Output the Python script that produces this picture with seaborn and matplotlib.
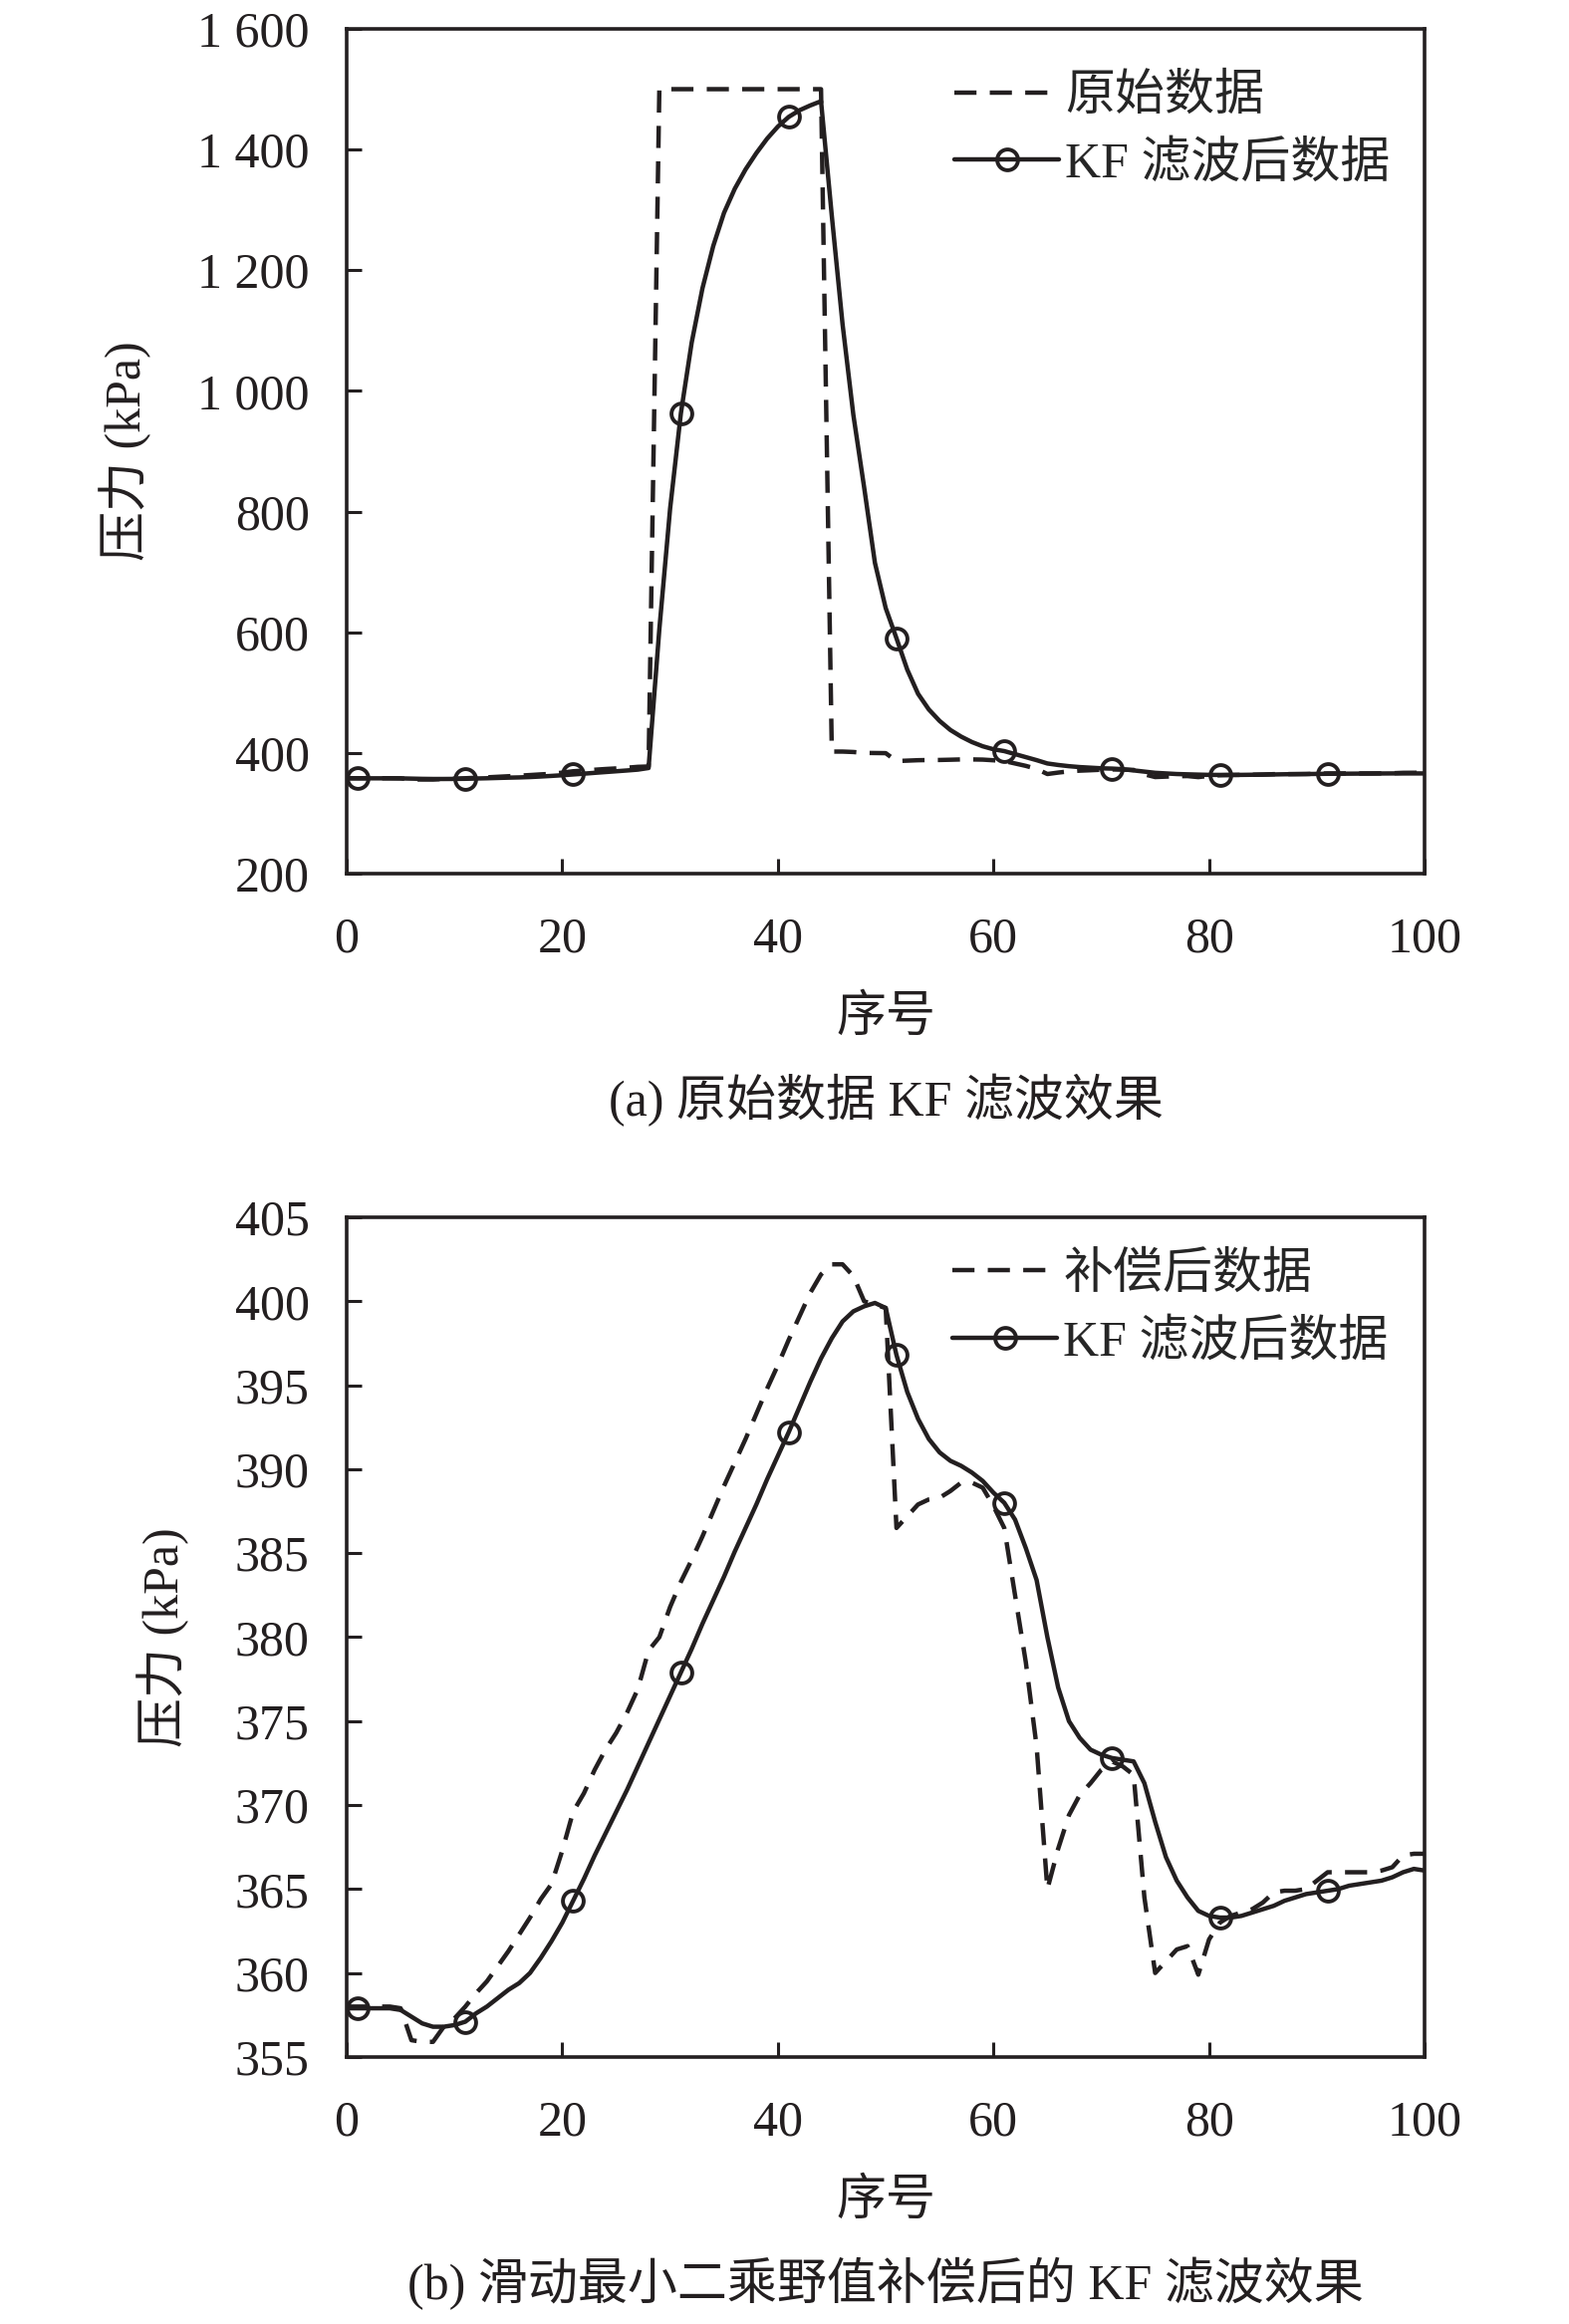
import matplotlib
matplotlib.use('Agg')
import matplotlib.pyplot as plt
import seaborn as sns
import pandas as pd

sns.set_style('ticks')
plt.rcParams['font.family'] = ['Liberation Serif', 'Noto Sans CJK SC']
plt.rcParams['axes.unicode_minus'] = False

# ---------------- data ----------------
index = list(range(101))

raw_a = [358.0, 358.0, 358.0, 358.0, 358.0, 357.9, 356.0, 355.9, 355.9, 356.8,
         357.3, 358.0, 358.8, 359.5, 360.4, 361.3, 362.3, 363.3, 364.4, 365.3,
         367.3, 369.6, 370.7, 372.1, 373.3, 374.3, 375.5, 376.9, 377.5, 1500.0,
         1500.0, 1500.0, 1500.0, 1500.0, 1500.0, 1500.0, 1500.0, 1500.0, 1500.0, 1500.0,
         1500.0, 1500.0, 1500.0, 1500.0, 1500.0, 402.2, 402.2, 401.5, 400.0, 399.8,
         399.6, 386.5, 387.2, 387.9, 388.2, 388.3, 388.7, 389.2, 389.2, 388.9,
         387.8, 386.5, 382.5, 378.5, 373.5, 365.0, 367.4, 369.4, 370.6, 371.3,
         372.1, 372.6, 372.3, 371.8, 364.5, 360.0, 360.7, 361.4, 361.6, 359.9,
         362.0, 363.0, 363.4, 363.6, 363.8, 364.2, 364.8, 364.9, 364.9, 365.0,
         365.5, 366.0, 366.0, 366.0, 366.0, 366.0, 366.1, 366.3, 367.0, 367.1,
         367.1]

kf_a = [357.9, 357.9, 357.9, 357.9, 357.9, 357.8, 357.4, 357.0, 356.8, 356.8,
        356.9, 357.1, 357.6, 358.0, 358.5, 359.0, 359.4, 360.0, 360.9, 361.9,
        363.0, 364.3, 365.6, 367.0, 368.3, 369.6, 370.9, 372.3, 375.0, 605.0,
        805.0, 963.0, 1080.0, 1170.0, 1240.0, 1295.0, 1335.0, 1367.0, 1394.0, 1418.0,
        1438.0, 1454.0, 1465.0, 1473.0, 1480.0, 1290.0, 1110.0, 960.0, 840.0, 715.0,
        640.0, 590.0, 538.0, 498.0, 472.0, 453.0, 438.0, 427.0, 418.0, 411.0,
        406.0, 403.0, 398.0, 393.0, 388.0, 382.5, 380.0, 378.0, 376.5, 375.5,
        374.5, 374.0, 373.0, 371.0, 369.0, 367.0, 366.0, 365.0, 364.5, 364.0,
        363.6, 363.5, 363.5, 363.6, 363.8, 364.0, 364.3, 364.6, 364.8, 365.0,
        365.2, 365.4, 365.5, 365.6, 365.7, 365.8, 365.9, 366.0, 366.0, 366.0,
        366.0]

comp_b = [358.0, 358.0, 358.0, 358.0, 358.0, 357.9, 356.0, 355.9, 355.9, 356.8,
          357.3, 358.0, 358.8, 359.5, 360.4, 361.3, 362.3, 363.3, 364.4, 365.3,
          367.3, 369.6, 370.7, 372.1, 373.3, 374.3, 375.5, 376.9, 379.2, 380.0,
          381.8, 383.3, 384.6, 386.0, 387.5, 389.0, 390.4, 391.8, 393.3, 394.8,
          396.2, 397.7, 399.1, 400.5, 401.6, 402.2, 402.2, 401.5, 400.0, 399.8,
          399.6, 386.5, 387.2, 387.9, 388.2, 388.3, 388.7, 389.2, 389.2, 388.9,
          387.8, 386.5, 382.5, 378.5, 373.5, 365.0, 367.4, 369.4, 370.6, 371.3,
          372.1, 372.6, 372.3, 371.8, 364.5, 360.0, 360.7, 361.4, 361.6, 359.9,
          362.0, 363.0, 363.4, 363.6, 363.8, 364.2, 364.8, 364.9, 364.9, 365.0,
          365.5, 366.0, 366.0, 366.0, 366.0, 366.0, 366.1, 366.3, 367.0, 367.1,
          367.1]

kf_b = [357.9, 357.9, 357.9, 357.9, 357.9, 357.8, 357.4, 357.0, 356.8, 356.8,
        356.9, 357.1, 357.6, 358.0, 358.5, 359.0, 359.4, 360.0, 360.9, 361.9,
        363.0, 364.3, 365.6, 367.0, 368.3, 369.6, 370.9, 372.3, 373.7, 375.1,
        376.5, 377.9, 379.3, 380.8, 382.2, 383.6, 385.1, 386.5, 387.9, 389.4,
        390.8, 392.2, 393.7, 395.2, 396.6, 397.8, 398.8, 399.4, 399.7, 399.9,
        399.6, 396.8, 394.6, 393.0, 391.8, 391.0, 390.5, 390.2, 389.8, 389.3,
        388.6, 388.0, 387.0, 385.3, 383.4, 380.0, 377.0, 375.0, 374.0, 373.3,
        373.0, 372.8, 372.7, 372.6, 371.3, 369.0, 366.9, 365.5, 364.5, 363.7,
        363.4, 363.3, 363.3, 363.4, 363.6, 363.8, 364.0, 364.3, 364.5, 364.7,
        364.8, 364.9, 365.0, 365.2, 365.3, 365.4, 365.5, 365.7, 366.0, 366.2,
        366.1]

x_ticks = [0, 20, 40, 60, 80, 100]
y_ticks_a = [200, 400, 600, 800, 1000, 1200, 1400, 1600]
y_ticklabels_a = ['200', '400', '600', '800', '1 000', '1 200', '1 400', '1 600']
y_ticks_b = [355, 360, 365, 370, 375, 380, 385, 390, 395, 400, 405]
y_ticklabels_b = ['355', '360', '365', '370', '375', '380', '385', '390', '395', '400', '405']

label_raw = '原始数据'
label_comp = '补偿后数据'
label_kf = 'KF 滤波后数据'
x_label = '序号'
y_label = '压力 (kPa)'
caption_a = '(a) 原始数据 KF 滤波效果'
caption_b = '(b) 滑动最小二乘野值补偿后的 KF 滤波效果'

# ---------------- style ----------------
INK = '#231f20'
FS = 36
LW = 3.2

df_a = pd.DataFrame({'idx': index, 'raw': raw_a, 'kf': kf_a})
df_b = pd.DataFrame({'idx': index, 'comp': comp_b, 'kf': kf_b})

fig = plt.figure(figsize=(15.75, 23.33), dpi=100)
ax_a = fig.add_axes([0.2210, 0.6241, 0.6870, 0.3635])
ax_b = fig.add_axes([0.2210, 0.1149, 0.6870, 0.3613])


def draw(ax, df, dcol, dlabel, yticks, yticklabels, ylim, caption, leg_anchor):
    sns.lineplot(data=df, x='idx', y=dcol, ax=ax, color=INK, lw=LW,
                 linestyle=(0, (5, 3)), label=dlabel, errorbar=None)
    sns.lineplot(data=df, x='idx', y='kf', ax=ax, color=INK, lw=LW,
                 marker='o', markevery=(1, 10), ms=15, mfc='none',
                 mec=INK, mew=2.8, label=label_kf, errorbar=None)
    ax.set_xlim(0, 100)
    ax.set_ylim(*ylim)
    ax.set_xticks(x_ticks)
    ax.set_xticklabels([str(t) for t in x_ticks])
    ax.set_yticks(yticks)
    ax.set_yticklabels(yticklabels)
    ax.tick_params(axis='both', direction='in', length=11, width=2.2,
                   labelsize=FS, colors=INK)
    ax.tick_params(axis='x', pad=31)
    ax.tick_params(axis='y', pad=27)
    for s in ax.spines.values():
        s.set_linewidth(2.6)
        s.set_color(INK)
    ax.set_xlabel(x_label, fontsize=FS, color=INK, labelpad=24)
    ax.set_ylabel(y_label, fontsize=FS, color=INK, labelpad=33)
    ax.legend(loc='upper left', bbox_to_anchor=leg_anchor, frameon=False,
              fontsize=FS, handlelength=2.1, handletextpad=0.12,
              borderpad=0, borderaxespad=0, labelspacing=0.42)
    ax.annotate(caption, xy=(0.5, 0), xycoords='axes fraction',
                xytext=(0, -164), textcoords='offset points',
                ha='center', va='center', fontsize=FS, color=INK)


draw(ax_a, df_a, 'raw', label_raw, y_ticks_a, y_ticklabels_a, (200, 1600),
     caption_a, (0.564, 0.946))
draw(ax_b, df_b, 'comp', label_comp, y_ticks_b, y_ticklabels_b, (355, 405),
     caption_b, (0.562, 0.958))

fig.savefig('out.png', dpi=100, facecolor='white')
